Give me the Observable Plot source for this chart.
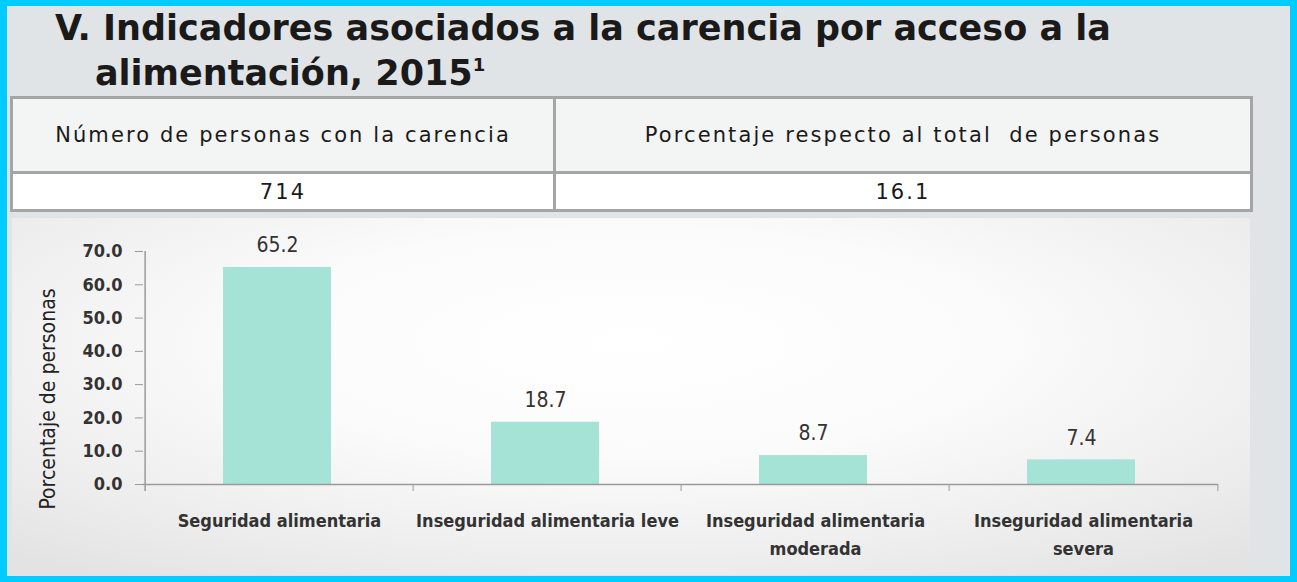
<!DOCTYPE html>
<html>
<head>
<meta charset="utf-8">
<script src="https://cdn.jsdelivr.net/npm/d3@7"></script>
<script src="https://cdn.jsdelivr.net/npm/@observablehq/plot@0.6"></script>
<style>
  html, body { margin: 0; padding: 0; }
  #frame { position: relative; width: 1297px; height: 582px; background: #00ccff; overflow: hidden; }
  #inner { position: absolute; left: 7px; top: 6px; width: 1283px; height: 570px; background: #e1e4e6; }
  #title { position: absolute; left: 55px; top: 6px; font-family: "DejaVu Sans", sans-serif; font-weight: bold; font-size: 35px; line-height: 45px; color: #1a1a1a; white-space: nowrap; }
  #title .l2 { padding-left: 40px; }
  #title sup { font-size: 18px; vertical-align: 14px; line-height: 0; }
  #tbl { position: absolute; left: 10px; top: 96px; width: 1243px; border-collapse: collapse; font-family: "DejaVu Sans", sans-serif; color: #1a1a1a; }
  #tbl td { border: 3px solid #a3a5a7; text-align: center; padding: 0; letter-spacing: 2.1px; font-size: 21px; }
  #tbl tr.h td { height: 72px; background: #f3f4f4; }
  #tbl tr.v td { height: 35px; background: #ffffff; }
  #panel { position: absolute; left: 12px; top: 218px; width: 1238px; height: 357px;
    background: radial-gradient(ellipse 75% 80% at 50% 35%, #ffffff 0%, #fbfbfb 40%, #ececec 80%, #e3e3e3 100%); }
  #chart svg { display: block; }
</style>
</head>
<body>
<div id="frame">
  <div id="inner"></div>
  <div id="title"></div>
  <table id="tbl"></table>
  <div id="panel"><div id="chart"></div></div>
</div>
<script>
// ---- data ----
const titleLine1 = "V. Indicadores asociados a la carencia por acceso a la";
const titleLine2 = "alimentación, 2015";
const titleSup = "1";
const tableHeaders = ["Número de personas con la carencia", "Porcentaje respecto al total\u00a0 de personas"];
const tableValues = ["714", "16.1"];
const categories = ["Seguridad alimentaria", "Inseguridad alimentaria leve", "Inseguridad alimentaria moderada", "Inseguridad alimentaria severa"];
const categoryLabels = ["Seguridad alimentaria", "Inseguridad alimentaria leve", "Inseguridad alimentaria\nmoderada", "Inseguridad alimentaria\nsevera"];
const values = [65.2, 18.7, 8.7, 7.4];
const yTicks = [0, 10, 20, 30, 40, 50, 60, 70];
const yLabel = "Porcentaje de personas";

// ---- header & table ----
document.getElementById("title").innerHTML =
  `<div>${titleLine1}</div><div class="l2">${titleLine2}<sup>${titleSup}</sup></div>`;
const tbl = document.getElementById("tbl");
tbl.innerHTML =
  `<tr class="h"><td style="width:540px">${tableHeaders[0]}</td><td>${tableHeaders[1]}</td></tr>` +
  `<tr class="v"><td>${tableValues[0]}</td><td>${tableValues[1]}</td></tr>`;

// ---- chart ----
const data = categories.map((c, i) => ({cat: c, value: values[i], label: categoryLabels[i]}));
const W = 1238, H = 357, ML = 131, MR = 32, MT = 33, MB = 91;
const half = (W - ML - MR) / categories.length / 2;
const labelMap = new Map(categories.map((c, i) => [c, categoryLabels[i]]));
const narrow = "'Liberation Sans Narrow', 'DejaVu Sans Condensed', sans-serif";

const chart = Plot.plot({
  width: W, height: H,
  marginLeft: ML, marginRight: MR, marginTop: MT, marginBottom: MB,
  style: {background: "transparent", fontFamily: narrow, color: "#333"},
  x: {domain: categories, padding: 0, label: null},
  y: {domain: [0, 70], label: null},
  marks: [
    Plot.barY(data, {x: "cat", y: "value", fill: "#a5e3d7", insetLeft: 80, insetRight: 80, dx: -2}),
    Plot.ruleY([0], {stroke: "#9a9a9a", strokeWidth: 1.5}),
    Plot.ruleX([categories[0]], {dx: -half, y1: 70, y2: 0, stroke: "#9a9a9a", strokeWidth: 1.5, insetBottom: -7}),
    Plot.ruleX(categories.slice(1), {dx: -half, y1: 0, y2: 0, stroke: "#9a9a9a", insetBottom: -7}),
    Plot.ruleX([categories[categories.length - 1]], {dx: half, y1: 0, y2: 0, stroke: "#9a9a9a", insetBottom: -7}),
    Plot.axisY({ticks: yTicks, tickFormat: d3.format(".1f"), tickSize: 8, tickPadding: 13,
      stroke: "#9a9a9a", fontSize: 18, fontWeight: "bold", fill: "#333", label: null}),
    Plot.axisX({tickSize: 0, tickPadding: 23, tickFormat: d => labelMap.get(d), fontSize: 18,
      fontWeight: "bold", fill: "#333", lineHeight: 1.55, label: null}),
    Plot.text(data, {x: "cat", y: "value", text: d => d.value.toFixed(1), dy: -22, dx: -2,
      fontSize: 21, fill: "#333", fontFamily: narrow}),
    Plot.text([yLabel], {frameAnchor: "left", textAnchor: "middle", dx: -95, dy: 31, rotate: -90, fontSize: 21, fill: "#222",
      fontFamily: narrow})
  ]
});
document.getElementById("chart").appendChild(chart);
</script>
</body>
</html>
